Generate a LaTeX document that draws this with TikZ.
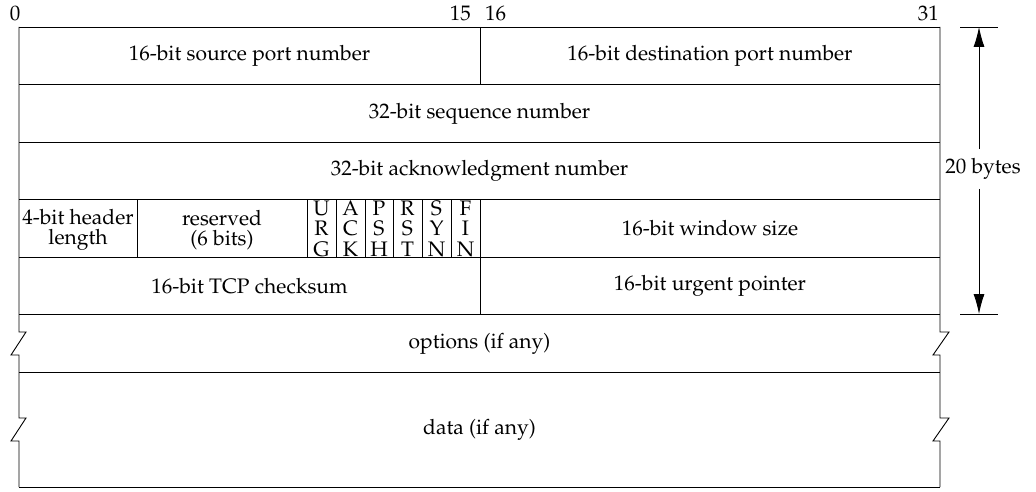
\documentclass[tikz,border=0pt]{standalone}
\usepackage[T1]{fontenc}
\renewcommand\rmdefault{ppl}
\usetikzlibrary{arrows.meta}
\begin{document}
\begin{tikzpicture}[x=1pt,y=-1pt,
  rule/.style={line width=0.9pt},
  lbl/.style={font=\fontsize{21}{20}\selectfont, inner sep=0pt, align=center},
  flag/.style={font=\fontsize{21}{20.5}\selectfont, inner sep=0pt, align=center},
  dimarrow/.style={line width=0.9pt, -{Latex[length=20pt,width=11pt]}}]
\useasboundingbox (0,0) rectangle (1036,492);
% horizontal rules
\foreach \y in {27,84,142,199,257,314,372,487}
  \draw[rule] (19,\y) -- (940,\y);
% outer edges with break marks
\draw[rule] (19,27) -- (19,332) -- (26,332) -- (11,355) -- (19,355) -- (19,418) -- (26,418) -- (11,441) -- (19,441) -- (19,487);
\draw[rule] (940,27) -- (940,332) -- (949,332) -- (933,355) -- (940,355) -- (940,418) -- (949,418) -- (933,441) -- (940,441) -- (940,487);
% dividers
\draw[rule] (480,27) -- (480,84);
\draw[rule] (480,199) -- (480,314);
\foreach \x in {137,307,336,365,393,422,451}
  \draw[rule] (\x,199) -- (\x,257);
% bit numbers
\node[lbl] (b0) at (15,13) {0};
\node[lbl,anchor=east] (b15) at (471,13) {15};
\node[lbl,anchor=west] (b16) at (485,13) {16};
\node[lbl,anchor=east] (b31) at (939,13) {31};
% fields
\node[lbl] (srcport) at (249.5,56) {16-bit source port number};
\node[lbl] (dstport) at (710,56) {16-bit destination port number};
\node[lbl] (seq) at (479.5,113.5) {32-bit sequence number};
\node[lbl] (ack) at (479.5,171) {32-bit acknowledgment number};
\node[lbl] (hlen) at (78,230) {4-bit header\\length};
\node[lbl] (resv) at (222,230) {reserved\\(6 bits)};
\node[flag] (urg) at (321.5,228.5) {U\\R\\G};
\node[flag] (ackf) at (350.5,228.5) {A\\C\\K};
\node[flag] (psh) at (379,228.5) {P\\S\\H};
\node[flag] (rst) at (407.5,228.5) {R\\S\\T};
\node[flag] (syn) at (436.5,228.5) {S\\Y\\N};
\node[flag] (fin) at (465.5,228.5) {F\\I\\N};
\node[lbl] (win) at (710,228.5) {16-bit window size};
\node[lbl] (cksum) at (249.5,286) {16-bit TCP checksum};
\node[lbl] (urgp) at (710,286) {16-bit urgent pointer};
\node[lbl] (opts) at (479.5,343.5) {options (if any)};
\node[lbl] (data) at (479.5,430) {data (if any)};
% 20 bytes dimension
\draw[rule] (960,27) -- (998,27);
\draw[rule] (960,314) -- (998,314);
\coordinate (dtop) at (979,27);
\coordinate (dbot) at (979,314);
\node[lbl,fill=white,inner ysep=9pt,inner xsep=1pt] (bytes) at (983,169) {20 bytes};
\draw[dimarrow] (bytes.north -| dtop) -- (dtop);
\draw[dimarrow] (bytes.south -| dbot) -- (dbot);
\end{tikzpicture}
\end{document}
